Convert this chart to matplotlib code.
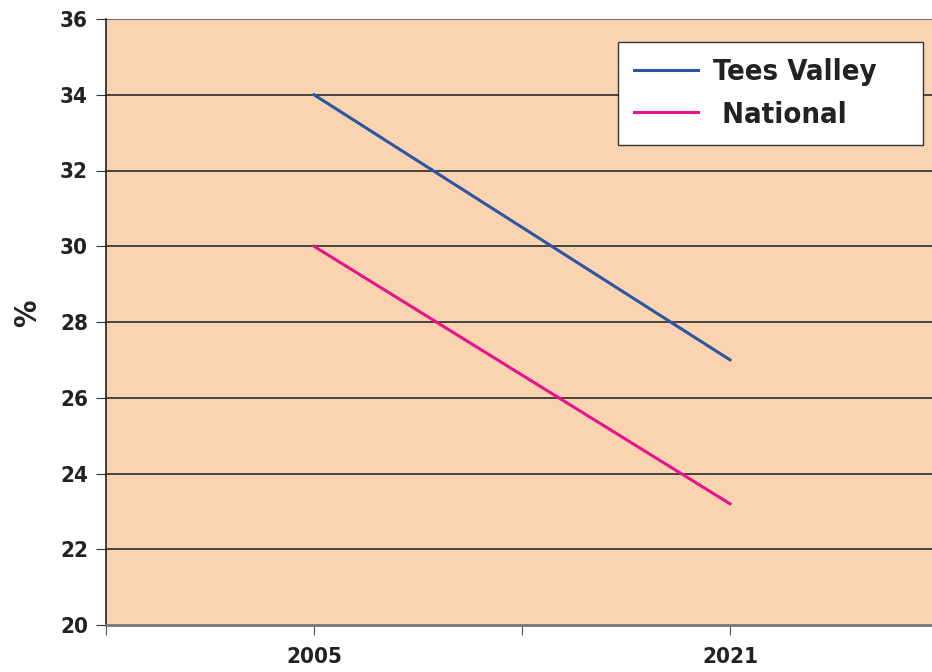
import matplotlib.pyplot as plt

years = ['2005', '2021']
x_pos = [1, 3]
tees_valley = [34.0, 27.0]
national = [30.0, 23.2]
y_ticks = [20, 22, 24, 26, 28, 30, 32, 34, 36]

plt.rcParams['font.family'] = ['DejaVu Sans']
plt.rcParams['font.stretch'] = 'condensed'
plt.rcParams['font.weight'] = 'bold'

W, H = 932, 672
fig = plt.figure(figsize=(W / 100, H / 100), dpi=100)
left, right, top, bottom = 106, 938, 19, 625
ax = fig.add_axes([left / W, 1 - bottom / H, (right - left) / W, (bottom - top) / H])
ax.set_facecolor('#FAD4B0')

ax.plot(x_pos, tees_valley, color='#2E54A5', linewidth=2.2, label='Tees Valley', zorder=3)
ax.plot(x_pos, national, color='#E8128C', linewidth=2.2, label=' National', zorder=3)

ax.set_xlim(0, 4)
ax.set_ylim(20, 36)
ax.set_yticks(y_ticks)
ax.set_yticklabels([str(v) for v in y_ticks], fontsize=16, fontweight='bold', color='#222222')
ax.set_xticks([0, 1, 2, 3, 4])
ax.set_xticklabels(['', years[0], '', years[1], ''], fontsize=16, fontweight='bold', color='#222222')
ax.tick_params(axis='x', length=7, color='#555555', pad=9)
ax.tick_params(axis='y', length=7, color='#333333', pad=6)

for v in y_ticks[1:-1]:
    ax.axhline(v, color='#2a2a2a', linewidth=1.2, zorder=1)
ax.axhline(36, color='#555555', linewidth=1.2, zorder=1)

ax.spines['top'].set_visible(False)
ax.spines['right'].set_visible(False)
ax.spines['left'].set_color('#222222')
ax.spines['left'].set_linewidth(1.2)
ax.spines['bottom'].set_color('#777777')
ax.spines['bottom'].set_linewidth(2)

fig.text(28 / W, 1 - 313 / H, '%', rotation=90, fontsize=22, fontweight='bold',
         color='#222222', ha='center', va='center')

leg = ax.legend(loc='upper left', mode='expand',
                bbox_to_anchor=(618 / W, 1 - 149 / H, 305 / W, 107 / H),
                bbox_transform=fig.transFigure, fontsize=21, frameon=True,
                fancybox=False, edgecolor='#333333', framealpha=1,
                handlelength=2.2, handletextpad=0.5, borderpad=0.55,
                labelspacing=0.5, borderaxespad=0)
leg.get_frame().set_linewidth(1.0)
for t in leg.get_texts():
    t.set_fontweight('bold')
    t.set_color('#222222')

fig.savefig('out.png', dpi=100)
